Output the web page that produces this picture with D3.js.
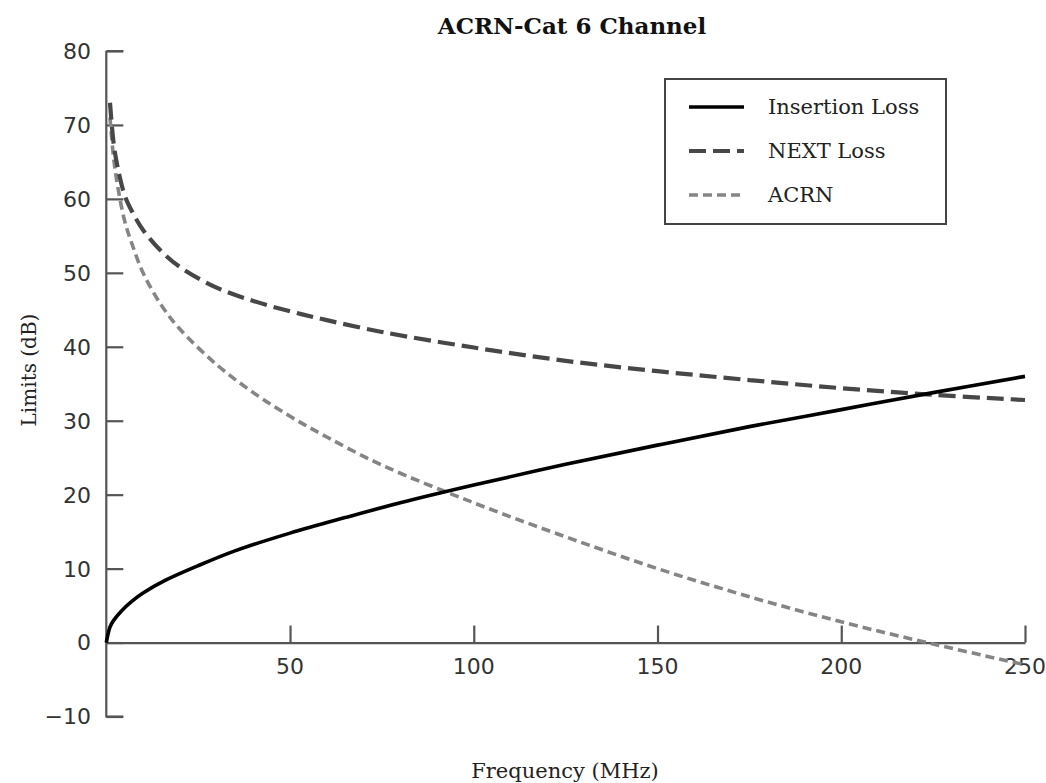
<!DOCTYPE html>
<html>
<head>
<meta charset="utf-8">
<script src="https://cdn.jsdelivr.net/npm/d3@7"></script>
<style>
  html, body { margin: 0; padding: 0; background: #fff; }
  svg { display: block; }
</style>
</head>
<body>
<svg id="chart" width="1046" height="783"></svg>
<script>
// ---- Data ----
const title = "ACRN-Cat 6 Channel";
const xLabel = "Frequency (MHz)";
const yLabel = "Limits (dB)";
const xTicks = [50, 100, 150, 200, 250];
const yTicks = [-10, 0, 10, 20, 30, 40, 50, 60, 70, 80];
const seriesNames = ["Insertion Loss", "NEXT Loss", "ACRN"];

const ilFreq = [0, 1, 2, 4, 7, 10, 16, 25, 35, 50, 65, 80, 100, 125, 150, 175, 200, 225, 250];
const ilVals = [0, 2.1, 3.0, 4.2, 5.6, 6.7, 8.4, 10.4, 12.4, 14.8, 16.9, 18.9, 21.3, 24.1, 26.7, 29.2, 31.5, 33.8, 36.0];

const nextFreq = [1, 2, 3, 5, 7, 10, 15, 20, 30, 40, 50, 60, 75, 100, 125, 150, 175, 200, 225, 250];
const nextVals = [73, 67.5, 64.5, 60.5, 58.3, 55.8, 52.9, 50.8, 48.0, 46.2, 44.8, 43.6, 42.0, 39.9, 38.1, 36.7, 35.5, 34.4, 33.5, 32.8];

const acrnFreq = [1, 2, 3, 5, 7, 10, 15, 20, 30, 40, 50, 60, 75, 100, 125, 150, 175, 200, 225, 250];
const acrnVals = [71, 65.5, 62, 57, 53.9, 50.0, 45.6, 42.4, 37.6, 33.8, 30.6, 27.8, 24.0, 18.9, 14.3, 10.0, 6.2, 2.8, -0.2, -3.0];

// ---- Layout ----
const svg = d3.select("#chart");
const x = d3.scaleLinear().domain([0, 250]).range([106.3, 1025]);
const y = d3.scaleLinear().domain([-10, 80]).range([716.5, 51]);

const axisColor = "#555";
const sansFont = "'DejaVu Sans', sans-serif";
const serifFont = "'DejaVu Serif', serif";

// Title
svg.append("text")
  .attr("x", 572).attr("y", 34)
  .attr("text-anchor", "middle")
  .attr("font-family", serifFont)
  .attr("font-weight", "bold")
  .attr("font-size", 23)
  .attr("fill", "#111")
  .text(title);

// Y axis (ticks point inward / right)
const yAxis = d3.axisRight(y).tickValues(yTicks).tickSize(17).tickFormat("");
const gy = svg.append("g").attr("transform", `translate(${x(0)},0)`).call(yAxis);
gy.select(".domain").attr("stroke", axisColor).attr("stroke-width", 2.2).attr("d", `M0,${y(80)}H17M0,${y(80)}V${y(-10)}H17`);
gy.selectAll(".tick line").attr("stroke", axisColor).attr("stroke-width", 2.2);

// Y tick labels
svg.append("g").selectAll("text").data(yTicks).join("text")
  .attr("x", 91).attr("y", d => y(d))
  .attr("dy", "0.36em")
  .attr("text-anchor", "end")
  .attr("font-family", sansFont)
  .attr("font-size", 22)
  .attr("fill", "#333")
  .text(d => d < 0 ? "\u2212" + Math.abs(d) : d);

// X axis at y = 0 (ticks point upward)
const xAxis = d3.axisTop(x).tickValues(xTicks).tickSize(17).tickSizeOuter(0).tickFormat("");
const gx = svg.append("g").attr("transform", `translate(0,${y(0)})`).call(xAxis);
gx.select(".domain").attr("stroke", axisColor).attr("stroke-width", 2.2);
gx.selectAll(".tick line").attr("stroke", axisColor).attr("stroke-width", 2.2);

// X tick labels
svg.append("g").selectAll("text").data(xTicks).join("text")
  .attr("x", d => x(d)).attr("y", y(0) + 31)
  .attr("text-anchor", "middle")
  .attr("font-family", sansFont)
  .attr("font-size", 22)
  .attr("fill", "#333")
  .text(d => d);

// Axis titles
svg.append("text")
  .attr("x", 565).attr("y", 778)
  .attr("text-anchor", "middle")
  .attr("font-family", serifFont)
  .attr("font-size", 21)
  .attr("fill", "#222")
  .text(xLabel);

svg.append("text")
  .attr("transform", `translate(36,370) rotate(-90)`)
  .attr("text-anchor", "middle")
  .attr("font-family", serifFont)
  .attr("font-size", 20)
  .attr("fill", "#222")
  .text(yLabel);

// Lines
const line = d3.line().x(d => x(d[0])).y(d => y(d[1])).curve(d3.curveCatmullRom.alpha(0.5));
const styles = [
  { stroke: "#000", width: 3.6, dash: null },
  { stroke: "#474747", width: 4.2, dash: "17,7" },
  { stroke: "#858585", width: 3.6, dash: "9,5" }
];
const seriesData = [
  d3.zip(ilFreq, ilVals),
  d3.zip(nextFreq, nextVals),
  d3.zip(acrnFreq, acrnVals)
];
// draw in order: ACRN, NEXT, IL (IL on top)
[2, 1, 0].forEach(i => {
  svg.append("path")
    .datum(seriesData[i])
    .attr("d", line)
    .attr("fill", "none")
    .attr("stroke", styles[i].stroke)
    .attr("stroke-width", styles[i].width)
    .attr("stroke-dasharray", styles[i].dash)
    .attr("stroke-linecap", "butt");
});

// Legend
const lg = svg.append("g");
lg.append("rect")
  .attr("x", 665).attr("y", 79).attr("width", 281).attr("height", 145)
  .attr("fill", "#fff").attr("stroke", "#444").attr("stroke-width", 2);
const rowY = [107, 151, 195];
seriesNames.forEach((name, i) => {
  lg.append("line")
    .attr("x1", 689).attr("x2", 744).attr("y1", rowY[i]).attr("y2", rowY[i])
    .attr("stroke", styles[i].stroke)
    .attr("stroke-width", styles[i].width)
    .attr("stroke-dasharray", styles[i].dash);
  lg.append("text")
    .attr("x", 768).attr("y", rowY[i])
    .attr("dy", "0.35em")
    .attr("font-family", serifFont)
    .attr("font-size", 21)
    .attr("fill", "#222")
    .text(name);
});
</script>
</body>
</html>
